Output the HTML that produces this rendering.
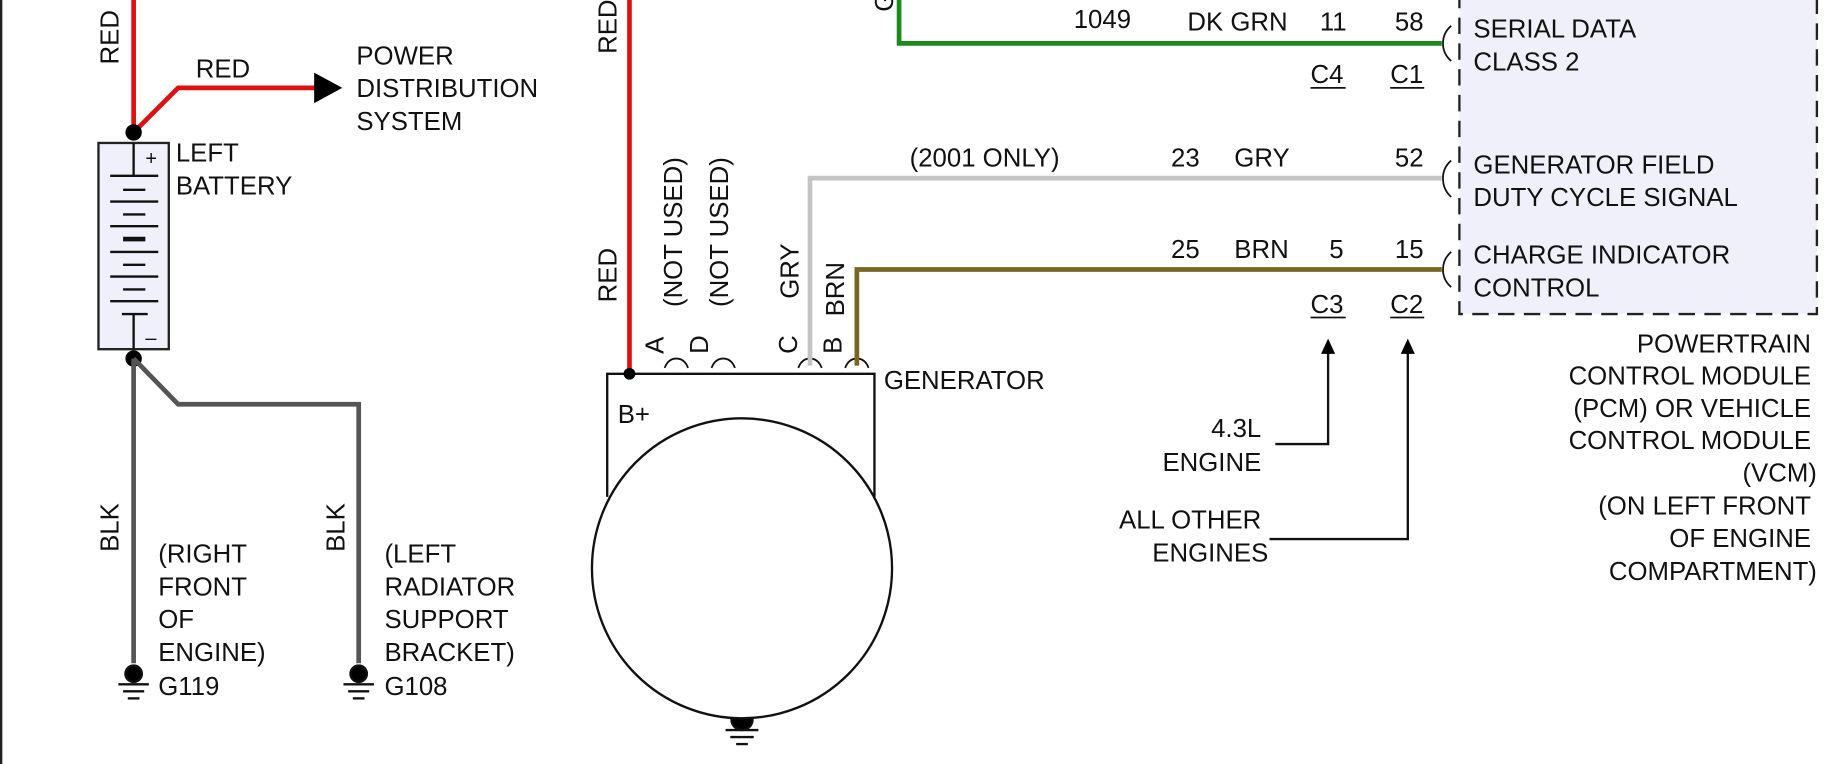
<!DOCTYPE html>
<html><head><meta charset="utf-8"><style>
html,body{margin:0;padding:0;background:#fff;}
svg{display:block;}
text{font-family:"Liberation Sans",sans-serif;font-size:22px;fill:#111;}
</style></head><body>
<svg width="1838" height="764" viewBox="0 0 1568 652" preserveAspectRatio="none" xmlns="http://www.w3.org/2000/svg">
<rect width="1568" height="652" fill="#fff"/>
<line x1="1" y1="0" x2="1" y2="652" stroke="#222" stroke-width="2"/>
<rect x="1245" y="-5" width="305" height="273" fill="#f0f0fa" stroke="#222" stroke-width="2" stroke-dasharray="14,8"/>
<polyline points="114,0 114,113" fill="none" stroke="#e01010" stroke-width="4"/>
<polyline points="114,113 152,75 270,75" fill="none" stroke="#e01010" stroke-width="4"/>
<polygon points="268,62 292,75 268,88" fill="#000"/>
<circle cx="114" cy="113" r="7" fill="#000"/>
<rect x="84" y="122" width="60" height="176" fill="#f0f0fa" stroke="#222" stroke-width="2"/>
<g stroke="#111" stroke-width="2">
<line x1="114" y1="122" x2="114" y2="150"/>
<line x1="114" y1="268" x2="114" y2="298"/>
<line x1="94" y1="150" x2="135" y2="150"/>
<line x1="94" y1="172" x2="135" y2="172"/>
<line x1="94" y1="193" x2="135" y2="193"/>
<line x1="94" y1="215" x2="135" y2="215"/>
<line x1="94" y1="236" x2="135" y2="236"/>
<line x1="94" y1="257" x2="135" y2="257"/>
<line x1="104" y1="268" x2="126" y2="268"/>
<line x1="105" y1="162" x2="124" y2="162"/>
<line x1="105" y1="183" x2="124" y2="183"/>
<line x1="105" y1="204" x2="124" y2="204" stroke-width="4"/>
<line x1="105" y1="226" x2="124" y2="226"/>
<line x1="105" y1="247" x2="124" y2="247"/>
</g>
<text x="124" y="141" style="font-size:17px">+</text>
<text x="124" y="294" style="font-size:17px">–</text>
<circle cx="114" cy="306" r="7" fill="#000"/>
<polyline points="114,306 114,566" fill="none" stroke="#555" stroke-width="4"/>
<polyline points="114,306 152,345 306,345 306,566" fill="none" stroke="#555" stroke-width="4"/>
<g stroke="#111" stroke-width="2">
<circle cx="114" cy="575" r="7" fill="#000"/>
<line x1="101" y1="584" x2="127" y2="584"/><line x1="105" y1="590" x2="123" y2="590"/><line x1="109" y1="596" x2="119" y2="596"/>
<circle cx="306" cy="575" r="7" fill="#000"/>
<line x1="293" y1="584" x2="319" y2="584"/><line x1="297" y1="590" x2="315" y2="590"/><line x1="301" y1="596" x2="311" y2="596"/>
<circle cx="633" cy="614" r="9" fill="#000"/>
<line x1="619" y1="623" x2="647" y2="623"/><line x1="623" y1="629" x2="643" y2="629"/><line x1="628" y1="635" x2="638" y2="635"/>
</g>
<text x="135" y="593">G119</text>
<text x="328" y="593">G108</text>
<text transform="translate(101,55) rotate(-90)">RED</text>
<text transform="translate(101,471) rotate(-90)">BLK</text>
<text transform="translate(294,471) rotate(-90)">BLK</text>
<text x="167" y="66">RED</text>
<text x="304" y="55">POWER</text><text x="304" y="83">DISTRIBUTION</text><text x="304" y="111">SYSTEM</text>
<text x="150" y="138">LEFT</text><text x="150" y="166">BATTERY</text>
<text x="135" y="480">(RIGHT</text><text x="135" y="508">FRONT</text><text x="135" y="536">OF</text><text x="135" y="564">ENGINE)</text>
<text x="328" y="480">(LEFT</text><text x="328" y="508">RADIATOR</text><text x="328" y="536">SUPPORT</text><text x="328" y="564">BRACKET)</text>
<line x1="537" y1="0" x2="537" y2="319" stroke="#e01010" stroke-width="4"/>
<polyline points="518,424 518,319 746,319 746,424" fill="none" stroke="#111" stroke-width="2"/>
<circle cx="633" cy="485" r="128" fill="#fff" stroke="#111" stroke-width="2"/>
<circle cx="537" cy="319" r="5" fill="#000"/>
<text x="527" y="361">B+</text>
<text x="754" y="332">GENERATOR</text>
<g fill="none" stroke="#111" stroke-width="1.5">
<path d="M567,314 Q570,306 577,306 Q584,306 587,314"/>
<path d="M607,314 Q610,306 617,306 Q624,306 627,314"/>
<path d="M681,314 Q684,306 691,306 Q698,306 701,314"/>
<path d="M721,314 Q724,306 731,306 Q738,306 741,314"/>
</g>
<polyline points="691,312 691,152 1230,152" fill="none" stroke="#c4c4c4" stroke-width="4"/>
<polyline points="731,312 731,230 1230,230" fill="none" stroke="#7a6520" stroke-width="4"/>
<polyline points="767,0 767,37 1230,37" fill="none" stroke="#1a8a1a" stroke-width="4"/>
<text transform="translate(566,302) rotate(-90)">A</text>
<text transform="translate(604,302) rotate(-90)">D</text>
<text transform="translate(680,302) rotate(-90)">C</text>
<text transform="translate(718,302) rotate(-90)">B</text>
<text transform="translate(526,258) rotate(-90)">RED</text>
<text transform="translate(526,46) rotate(-90)">RED</text>
<text transform="translate(582,262) rotate(-90)">(NOT USED)</text>
<text transform="translate(621,262) rotate(-90)">(NOT USED)</text>
<text transform="translate(681,255) rotate(-90)">GRY</text>
<text transform="translate(720,270) rotate(-90)">BRN</text>
<text transform="translate(762,10) rotate(-90)">G</text>
<text x="916" y="24">1049</text><text x="1013" y="26">DK GRN</text><text x="1126" y="26">11</text><text x="1190" y="26">58</text>
<text x="1118" y="71">C4</text><text x="1186" y="71">C1</text>
<text x="776" y="142">(2001 ONLY)</text><text x="999" y="142">23</text><text x="1053" y="142">GRY</text><text x="1190" y="142">52</text>
<text x="999" y="220">25</text><text x="1053" y="220">BRN</text><text x="1134" y="220">5</text><text x="1190" y="220">15</text>
<g stroke="#111" stroke-width="1.5">
<line x1="1118" y1="75" x2="1148" y2="75"/><line x1="1186" y1="75" x2="1215" y2="75"/>
<line x1="1118" y1="271" x2="1148" y2="271"/><line x1="1186" y1="271" x2="1215" y2="271"/>
</g>
<text x="1118" y="267">C3</text><text x="1186" y="267">C2</text>
<g fill="none" stroke="#111" stroke-width="1.5">
<path d="M1238,22 Q1231,28 1231,37 Q1231,46 1238,52"/>
<path d="M1238,137 Q1231,143 1231,152 Q1231,162 1238,168"/>
<path d="M1238,215 Q1231,221 1231,230 Q1231,239 1238,245"/>
</g>
<text x="1257" y="32">SERIAL DATA</text><text x="1257" y="60">CLASS 2</text>
<text x="1257" y="148">GENERATOR FIELD</text><text x="1257" y="176">DUTY CYCLE SIGNAL</text>
<text x="1257" y="225">CHARGE INDICATOR</text><text x="1257" y="253">CONTROL</text>
<g stroke="#111" stroke-width="2" fill="none">
<polyline points="1088,379 1133,379 1133,300"/>
<polyline points="1083,460 1201,460 1201,300"/>
</g>
<polygon points="1127,302 1133,289 1139,302" fill="#000"/>
<polygon points="1195,302 1201,289 1207,302" fill="#000"/>
<g text-anchor="end">
<text x="1076" y="373">4.3L</text><text x="1076" y="402">ENGINE</text>
<text x="1076" y="451">ALL OTHER</text><text x="1082" y="479">ENGINES</text>
<text x="1545" y="301">POWERTRAIN</text><text x="1545" y="328">CONTROL MODULE</text>
<text x="1545" y="356">(PCM) OR VEHICLE</text><text x="1545" y="383">CONTROL MODULE</text>
<text x="1550" y="411">(VCM)</text><text x="1545" y="439">(ON LEFT FRONT</text>
<text x="1545" y="467">OF ENGINE</text><text x="1550" y="495">COMPARTMENT)</text>
</g>
</svg>
</body></html>
